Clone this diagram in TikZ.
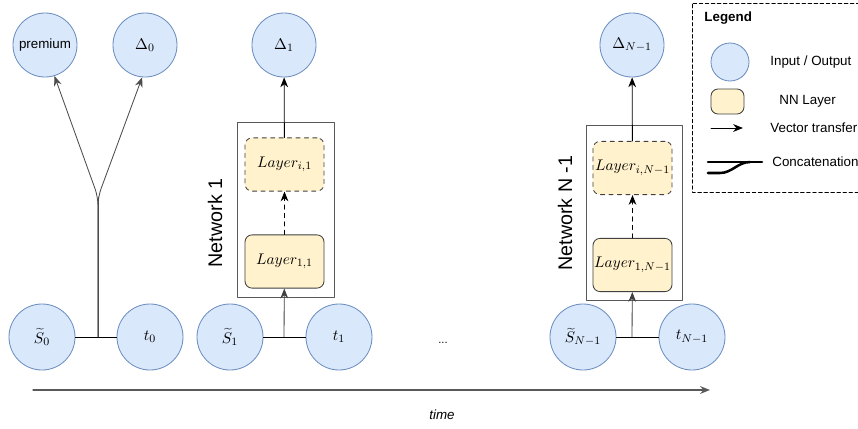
\documentclass[tikz,border=0pt]{standalone}
\usepackage{fontspec}
\setsansfont{Liberation Sans}
\usetikzlibrary{arrows.meta}
\definecolor{iofill}{HTML}{DAE8FC}
\definecolor{ioline}{HTML}{6C8EBF}
\definecolor{nnfill}{HTML}{FFF2CC}
\begin{document}
\begin{tikzpicture}[x=0.025cm,y=-0.025cm,line join=round,line cap=round,line width=0.6pt,
	>={Stealth[length=7pt,width=5.5pt]},
	font=\sffamily\fontsize{9.5}{11}\selectfont,
	io/.style={circle,draw=ioline,fill=iofill,minimum size=1.65cm,inner sep=0pt,font=\sffamily\fontsize{11}{13}\selectfont},
	nnbox/.style={rounded corners=5pt,draw=black!75,fill=nnfill,minimum width=1.975cm,minimum height=1.33cm,inner sep=0pt,font=\fontsize{11}{13}\selectfont},
	nnhidden/.style={nnbox,dashed},
	netbox/.style={draw=black!65,minimum width=2.425cm,minimum height=4.375cm},
	netlabel/.style={rotate=90,font=\sffamily\fontsize{14}{16}\selectfont},
	lgdtext/.style={anchor=west,inner sep=0pt},
	thick line/.style={line width=1.8pt}]
	\useasboundingbox (0,0) rectangle (858,429);
	% inputs
	\node[io] (s0) at (42,337) {$\widetilde{S}_0$};
	\node[io] (t0) at (150,337) {$t_0$};
	\node[io] (s1) at (230,337) {$\widetilde{S}_1$};
	\node[io] (t1) at (339,337) {$t_1$};
	\node[io] (sN) at (583,337) {$\widetilde{S}_{N-1}$};
	\node[io] (tN) at (692,337) {$t_{N-1}$};
	\node (dots) at (443,343) {\fontsize{8}{9}\selectfont ...};
	% outputs
	\node[io,minimum size=1.6cm,font=\sffamily\fontsize{9.5}{11}\selectfont] (prem) at (45,45) {premium};
	\node[io,minimum size=1.6cm] (d0) at (145,45) {$\Delta_0$};
	\node[io,minimum size=1.6cm] (d1) at (284,45) {$\Delta_1$};
	\node[io,minimum size=1.6cm] (dN) at (632,45) {$\Delta_{N-1}$};
	% networks
	\node[netbox] (net1) at (285.5,209.5) {};
	\node[nnhidden] (li1) at (284.5,164.5) {$Layer_{i,1}$};
	\node[nnbox] (l11) at (284.5,261.5) {$Layer_{1,1}$};
	\node[netlabel] (net1lbl) at (215,223) {Network 1};
	\node[netbox,minimum width=2.4cm] (netN) at (634,212.5) {};
	\node[nnhidden] (liN) at (632.5,168) {$Layer_{i,N-1}$};
	\node[nnbox] (l1N) at (632.5,265) {$Layer_{1,N-1}$};
	\node[netlabel] (netNlbl) at (565,213) {Network N -1};
	% concatenations
	\path (98,337) coordinate (j0)
		(98,197) coordinate (f0)
		(284,337) coordinate (j1)
		(632,337) coordinate (jN);
	\draw (s0)--(t0) (s1)--(t1) (sN)--(tN);
	\draw[black!70] (j0)--(f0);
	\draw[->,black!70,rounded corners=6pt] (j0)--(f0)--(prem.-73);
	\draw[->,black!70,rounded corners=6pt] (j0)--(f0)--(d0.-95);
	\draw[->,black!75] (j1)--(l11);
	\draw[->,black!75] (jN)--(l1N);
	\draw[->,dashed] (l11)--(li1);
	\draw[->,dashed] (l1N)--(liN);
	\draw[->] (li1)--(d1);
	\draw[->] (liN)--(dN);
	% time axis
	\path (33,390) coordinate (ta) (710,390) coordinate (tb);
	\draw[->,black!65,line width=0.9pt] (ta)--(tb);
	\node (timelbl) at (442,415) {\itshape time};
	% legend
	\draw[dashed,dash pattern=on 2.5pt off 1.8pt] (866,3)--(692,3)--(692,192)--(866,192);
	\node[lgdtext,font=\sffamily\bfseries\fontsize{9.5}{11}\selectfont] (lgd) at (704,18) {Legend};
	\node[io,minimum size=0.95cm] (lgdio) at (730,62) {};
	\node[lgdtext] (lgdiotext) at (770,62) {Input / Output};
	\node[nnbox,minimum width=0.825cm,minimum height=0.625cm] (lgdnn) at (727.5,101.5) {};
	\node[lgdtext] (lgdnntext) at (779,101) {NN Layer};
	\path (711,128) coordinate (va) (743,128) coordinate (vb);
	\draw[->] (va)--(vb);
	\node[lgdtext] (lgdvtext) at (770,128) {Vector transfer};
	\path (708,162) coordinate (ca) (762,162) coordinate (cb) (708,173) coordinate (cc);
	\draw[thick line] (ca)--(cb);
	\draw[thick line] (cc)--++(12,0) .. controls +(12,0) and (738,162) .. (750,162);
	\node[lgdtext] (lgdctext) at (772,162) {Concatenation};
\end{tikzpicture}
\end{document}
